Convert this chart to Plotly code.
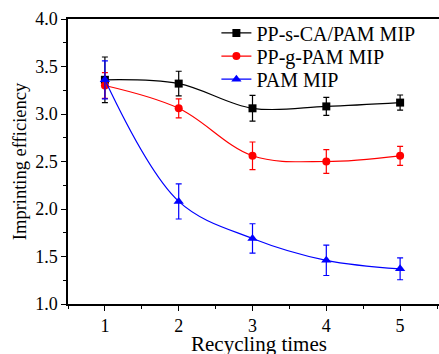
import plotly.graph_objects as go

cycles = [1, 2, 3, 4, 5]
names = ["PP-s-CA/PAM MIP", "PP-g-PAM MIP", "PAM MIP"]
black_y = [3.36, 3.32, 3.06, 3.08, 3.12]
black_err = [0.24, 0.13, 0.135, 0.095, 0.08]
red_y = [3.30, 3.06, 2.56, 2.50, 2.56]
red_err = [0.135, 0.10, 0.145, 0.125, 0.10]
blue_y = [3.36, 2.08, 1.69, 1.46, 1.37]
blue_err = [0.20, 0.185, 0.155, 0.16, 0.115]

colors = ["black", "red", "blue"]
symbols = ["square", "circle", "triangle-up"]
sizes = [8, 8, 9]
ys = [black_y, red_y, blue_y]
errs = [black_err, red_err, blue_err]
legend_ids = ["legend", "legend2", "legend3"]
legend_y = [0.951, 0.870, 0.789]

FONT = "Liberation Serif, Times New Roman, serif"

fig = go.Figure()
for n, y, e, c, s, sz, lg in zip(names, ys, errs, colors, symbols, sizes, legend_ids):
    fig.add_trace(go.Scatter(
        x=cycles, y=y, name=n, mode="lines+markers", legend=lg,
        line=dict(color=c, width=1.2, shape="spline", smoothing=1.0),
        marker=dict(symbol=s, size=sz, color=c),
        error_y=dict(type="data", array=e, visible=True, color=c, thickness=1.2, width=3),
    ))

legend_common = dict(x=0.4, xanchor="left", yanchor="middle",
                     bgcolor="rgba(0,0,0,0)", font=dict(family=FONT, size=20),
                     itemwidth=30)
fig.update_layout(
    width=439, height=354,
    margin=dict(l=68, r=0, t=19, b=50),
    paper_bgcolor="white", plot_bgcolor="white",
    font=dict(family=FONT, size=16, color="black"),
    showlegend=True,
    legend=dict(y=legend_y[0], **legend_common),
    legend2=dict(y=legend_y[1], **legend_common),
    legend3=dict(y=legend_y[2], **legend_common),
    annotations=[dict(text="Recycling times", xref="paper", yref="paper",
                      x=0.516, y=-0.142, xanchor="center", yanchor="middle",
                      showarrow=False, font=dict(family=FONT, size=21, color="black"))],
)
fig.update_xaxes(
    range=[0.5, 5.527], tickvals=[1, 2, 3, 4, 5], automargin=False,
    showline=True, linecolor="black", linewidth=1.5, mirror=True,
    ticks="outside", ticklen=5, tickwidth=1, tickcolor="black",
    minor=dict(tickvals=[0.5, 1.5, 2.5, 3.5, 4.5, 5.5], ticks="outside", ticklen=3, tickcolor="black"),
    showgrid=False, zeroline=False,
    tickfont=dict(family=FONT, size=18),
)
fig.update_yaxes(
    range=[1.0, 4.0], tickvals=[1.0, 1.5, 2.0, 2.5, 3.0, 3.5, 4.0], automargin=False,
    ticktext=["1.0", "1.5", "2.0", "2.5", "3.0", "3.5", "4.0"],
    showline=True, linecolor="black", linewidth=1.5, mirror=False,
    ticks="outside", ticklen=5, tickwidth=1, tickcolor="black",
    minor=dict(tickvals=[1.25, 1.75, 2.25, 2.75, 3.25, 3.75], ticks="outside", ticklen=3, tickcolor="black"),
    showgrid=False, zeroline=False,
    tickfont=dict(family=FONT, size=18),
    title=dict(text="Imprinting efficiency", font=dict(family=FONT, size=18.5), standoff=4),
)

fig.write_html("out.html")
